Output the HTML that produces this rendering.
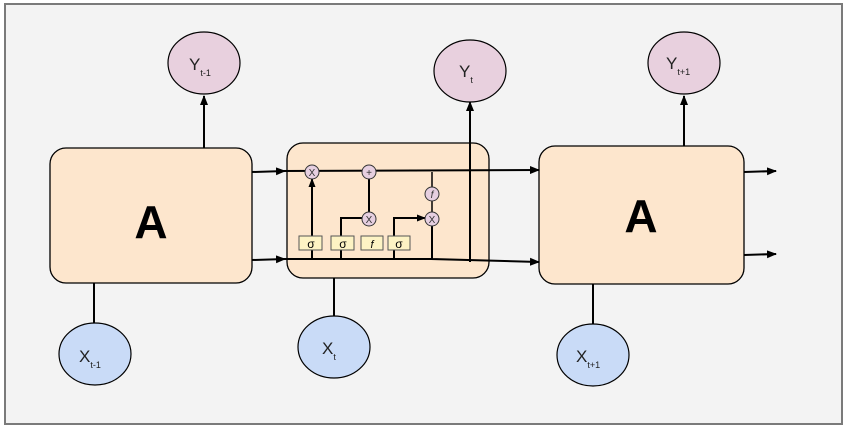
<!DOCTYPE html>
<html><head><style>
body{margin:0;background:#fff;}
svg{display:block;font-family:"Liberation Sans",sans-serif;}
</style></head><body>
<svg width="848" height="431" viewBox="0 0 848 431">
<defs>
<marker id="ar" markerWidth="10" markerHeight="8" refX="9" refY="4" orient="auto" markerUnits="userSpaceOnUse"><path d="M0,0 L10,4 L0,8 z" fill="#000"/></marker>
<marker id="as" markerWidth="9" markerHeight="7" refX="8" refY="3.5" orient="auto" markerUnits="userSpaceOnUse"><path d="M0,0 L9,3.5 L0,7 z" fill="#000"/></marker>
</defs>
<rect x="5" y="4" width="837" height="420" fill="#f3f3f3" stroke="#7a7a7a" stroke-width="2"/>
<g stroke="#000" stroke-width="2" fill="none">
<line x1="204" y1="148" x2="204" y2="96" marker-end="url(#ar)"/>
<line x1="94" y1="283" x2="94" y2="323"/>
<line x1="252" y1="172" x2="285" y2="171" marker-end="url(#ar)"/>
<line x1="252" y1="260" x2="285" y2="259" marker-end="url(#ar)"/>
<line x1="334" y1="278" x2="334" y2="316"/>
<line x1="684" y1="146" x2="684" y2="96" marker-end="url(#ar)"/>
<line x1="593" y1="284" x2="593" y2="324"/>
<line x1="744" y1="172" x2="776" y2="171" marker-end="url(#ar)"/>
<line x1="744" y1="255" x2="776" y2="254" marker-end="url(#ar)"/>
</g>
<rect x="50" y="148" width="202" height="135" rx="16" fill="#fde6cd" stroke="#000" stroke-width="1.3"/>
<rect x="287" y="143" width="202" height="135" rx="16" fill="#fde6cd" stroke="#000" stroke-width="1.3"/>
<rect x="539" y="146" width="205" height="138" rx="16" fill="#fde6cd" stroke="#000" stroke-width="1.3"/>
<text x="151" y="238" font-size="46" font-weight="bold" text-anchor="middle">A</text>
<text x="641" y="232" font-size="46" font-weight="bold" text-anchor="middle">A</text>
<g stroke="#000" stroke-width="2" fill="none">
<line x1="280" y1="171" x2="539" y2="170" marker-end="url(#ar)"/>
<line x1="280" y1="259" x2="432" y2="259"/>
<polyline points="432,219 432,259 539,262" marker-end="url(#ar)"/>
<line x1="470" y1="262" x2="470" y2="102" marker-end="url(#ar)"/>
<line x1="312" y1="259" x2="312" y2="179" marker-end="url(#as)"/>
<polyline points="341,259 341,218 362,218"/>
<line x1="369" y1="212" x2="369" y2="179"/>
<polyline points="394,259 394,218 425,218" marker-end="url(#as)"/>
<line x1="432" y1="172" x2="432" y2="212" stroke-width="1.5"/>
</g>
<g fill="#e6cfe0" stroke="#333" stroke-width="1">
<circle cx="312" cy="172" r="7"/><circle cx="369" cy="172" r="7"/><circle cx="369" cy="219" r="7"/>
<circle cx="432" cy="194" r="7"/><circle cx="432" cy="219" r="7"/>
</g>
<g font-size="10" text-anchor="middle" fill="#333">
<text x="312" y="176">X</text><text x="369" y="176">+</text><text x="369" y="223">X</text>
<text x="432" y="198" font-style="italic">f</text><text x="432" y="223">X</text>
</g>
<g fill="#fdf3c4" stroke="#555" stroke-width="1">
<rect x="299" y="236" width="23" height="14"/><rect x="331" y="236" width="23" height="14"/>
<rect x="361" y="236" width="22" height="14"/><rect x="388" y="236" width="22" height="14"/>
</g>
<g font-size="12" text-anchor="middle">
<text x="311" y="248">σ</text><text x="343" y="248">σ</text><text x="372" y="248" font-style="italic" font-size="11">f</text><text x="399" y="248">σ</text>
</g>
<g stroke="#000" stroke-width="1.2">
<ellipse cx="204" cy="63" rx="36" ry="31" fill="#e8d0de"/>
<ellipse cx="470" cy="71" rx="36" ry="31" fill="#e8d0de"/>
<ellipse cx="684" cy="63" rx="36" ry="31" fill="#e8d0de"/>
<ellipse cx="95" cy="354" rx="36" ry="31" fill="#c9dbf7"/>
<ellipse cx="334" cy="347" rx="36" ry="31" fill="#c9dbf7"/>
<ellipse cx="593" cy="355" rx="36" ry="31" fill="#c9dbf7"/>
</g>
<g fill="#222" font-size="17">
<text x="189" y="70">Y<tspan font-size="9" dy="6">t-1</tspan></text>
<text x="459" y="77">Y<tspan font-size="9" dy="6">t</tspan></text>
<text x="666" y="69">Y<tspan font-size="9" dy="6">t+1</tspan></text>
<text x="79" y="362">X<tspan font-size="9" dy="6">t-1</tspan></text>
<text x="322" y="354">X<tspan font-size="9" dy="6">t</tspan></text>
<text x="576" y="362">X<tspan font-size="9" dy="6">t+1</tspan></text>
</g>
</svg>
</body></html>
